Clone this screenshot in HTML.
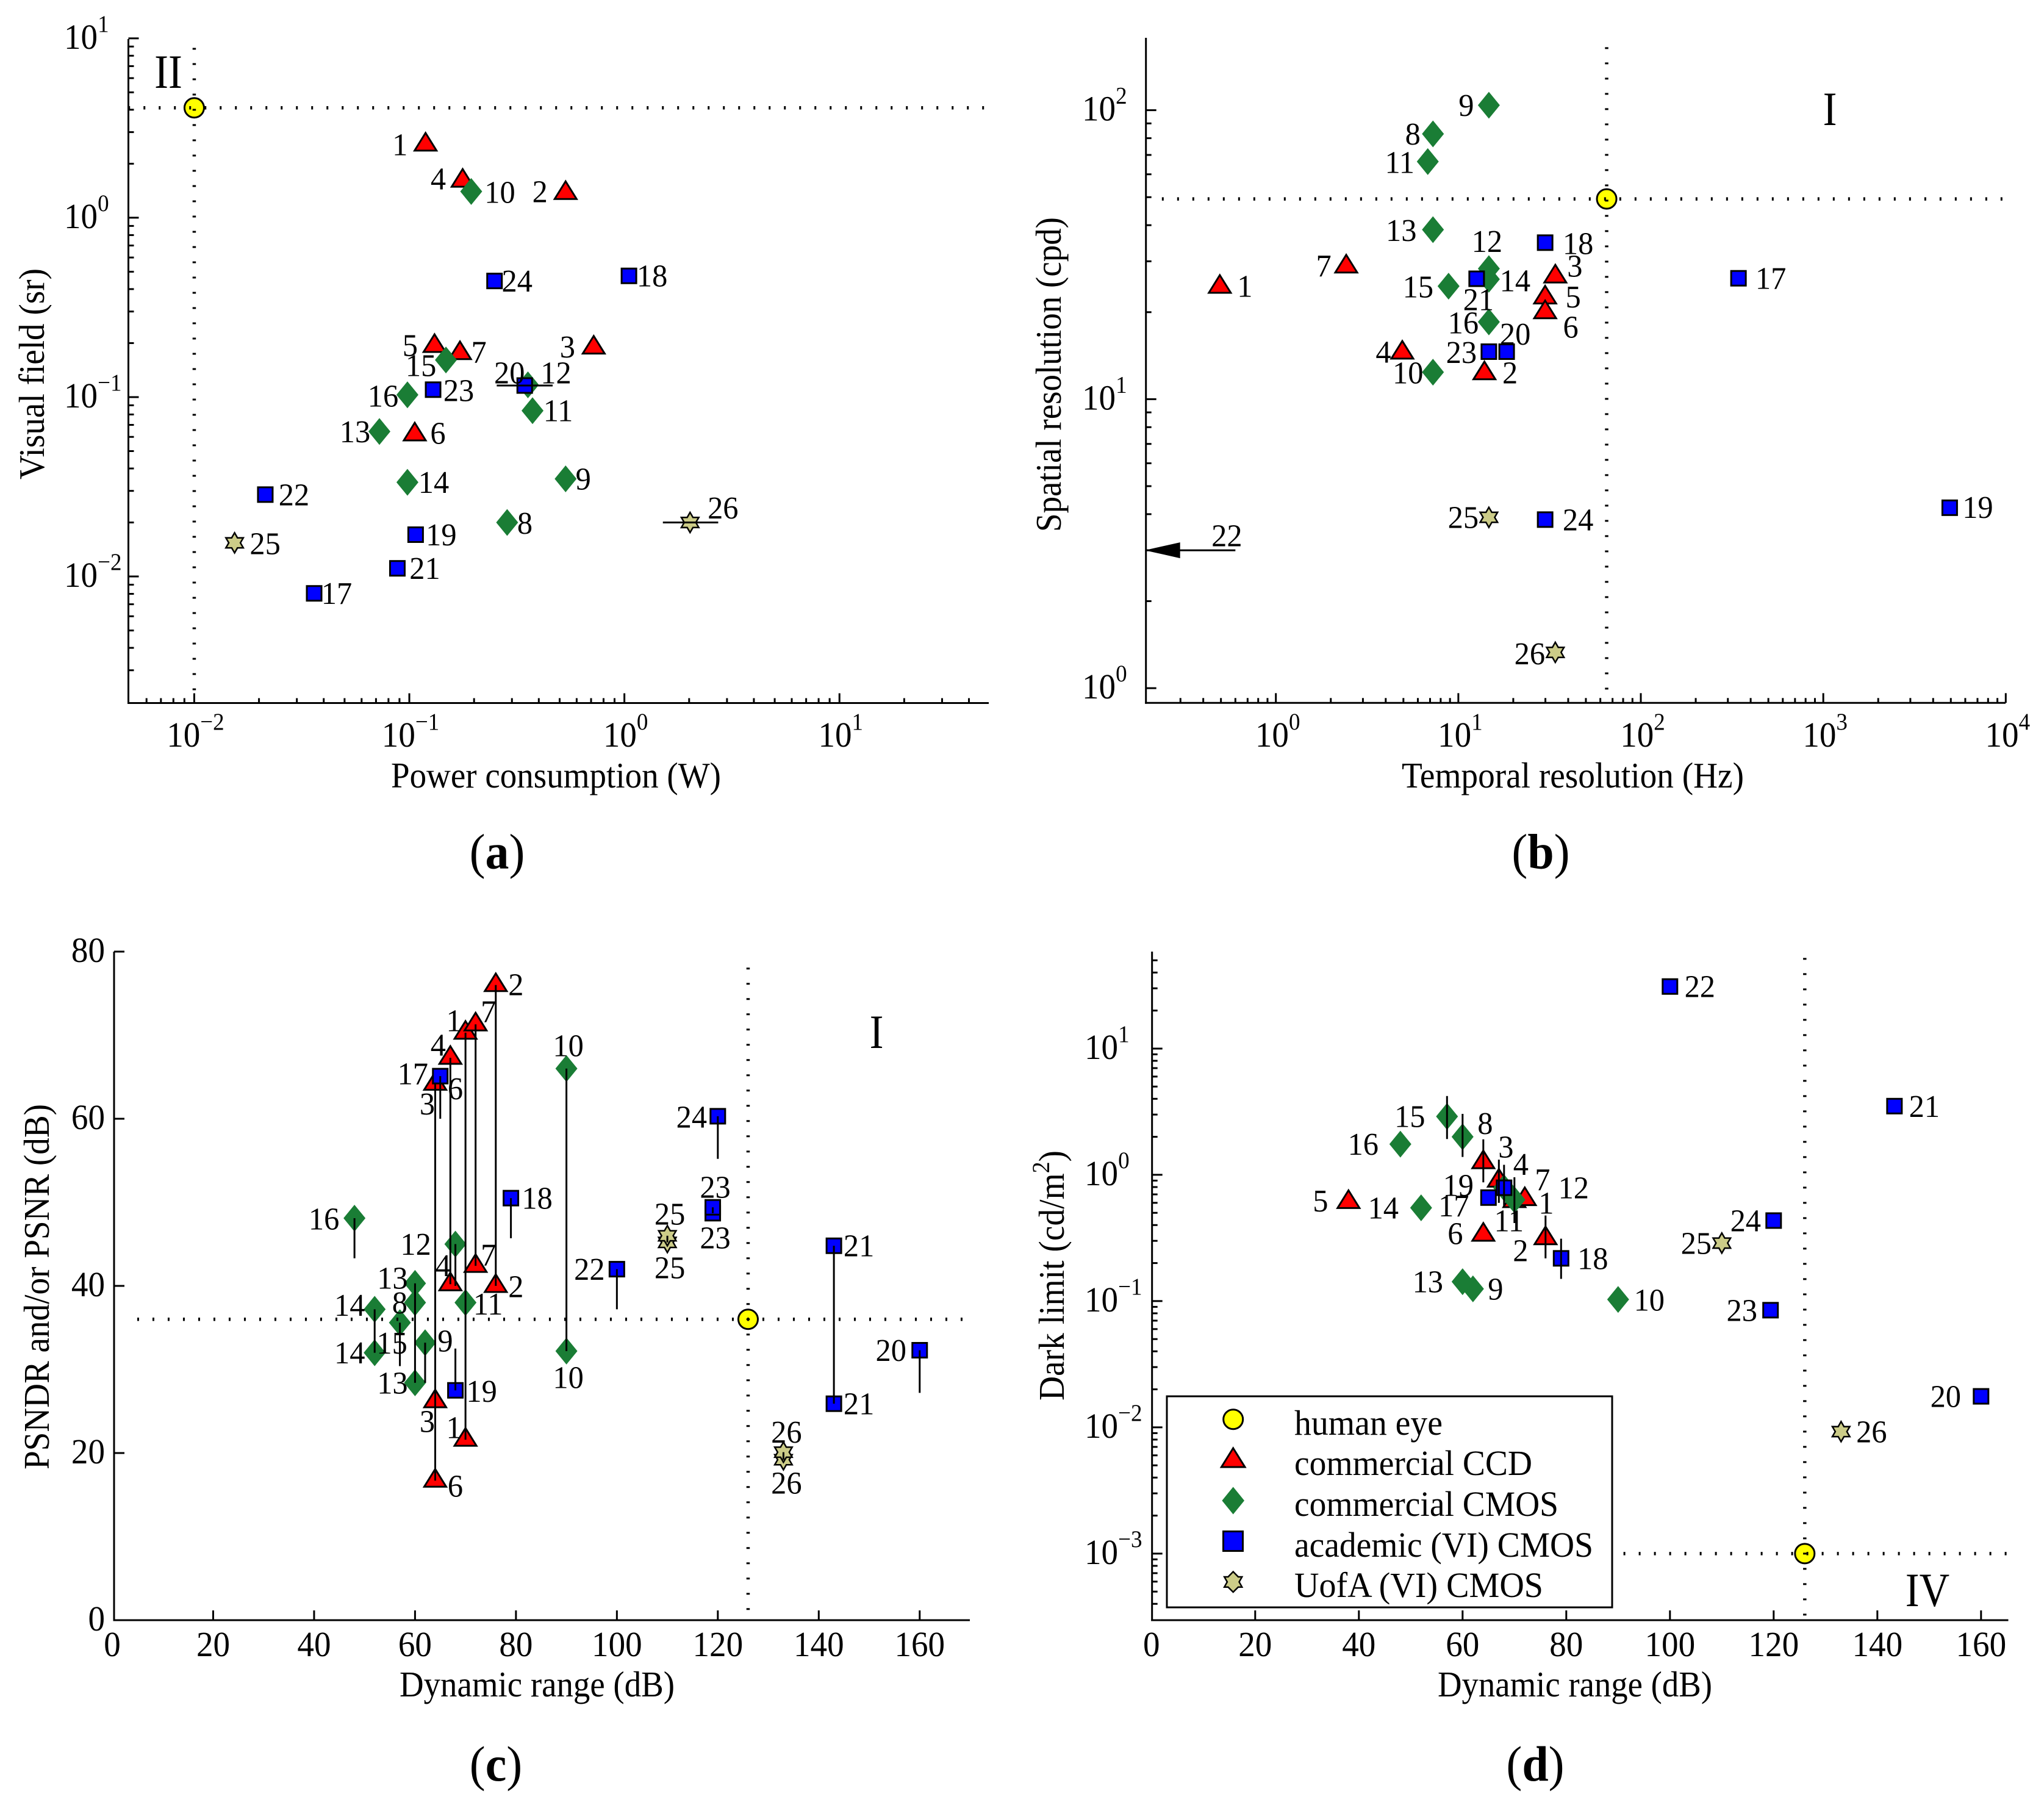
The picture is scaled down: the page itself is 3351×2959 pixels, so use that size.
<!DOCTYPE html>
<html lang="en">
<head>
<meta charset="utf-8">
<title>Image sensor comparison against the human eye</title>
<style>
html,body{margin:0;padding:0;background:#fff}
svg{display:block}
text{font-family:"Liberation Serif",serif;fill:#000}
</style>
</head>
<body>
<svg id="chart" xmlns="http://www.w3.org/2000/svg" width="3351" height="2959" viewBox="0 0 3351 2959">
<rect width="3351" height="2959" fill="#fff"/>
<g id="marks"></g>

<text font-size="59" x="641" y="1291" textLength="541" lengthAdjust="spacingAndGlyphs">Power consumption (W)</text>
<text font-size="59" transform="translate(72,786) rotate(-90)" textLength="346" lengthAdjust="spacingAndGlyphs">Visual field (sr)</text>
<text font-size="59" x="2298" y="1291" textLength="561" lengthAdjust="spacingAndGlyphs">Temporal resolution (Hz)</text>
<text font-size="59" transform="translate(1739,872) rotate(-90)" textLength="516" lengthAdjust="spacingAndGlyphs">Spatial resolution (cpd)</text>
<text font-size="59" x="655" y="2781" textLength="451" lengthAdjust="spacingAndGlyphs">Dynamic range (dB)</text>
<text font-size="59" transform="translate(80,2409) rotate(-90)" textLength="599" lengthAdjust="spacingAndGlyphs">PSNDR and/or PSNR (dB)</text>
<text font-size="59" x="2357" y="2781" textLength="450" lengthAdjust="spacingAndGlyphs">Dynamic range (dB)</text>
<text font-size="59" transform="translate(1744,2296) rotate(-90)" textLength="410" lengthAdjust="spacingAndGlyphs">Dark limit (cd/m<tspan font-size="40" dy="-24">2</tspan><tspan dy="24">)</tspan></text>

<text font-size="82" transform="translate(815,1423.5) scale(.95,1)" text-anchor="middle">(<tspan font-weight="bold">a</tspan>)</text>
<text font-size="82" transform="translate(2526,1423.5) scale(.95,1)" text-anchor="middle">(<tspan font-weight="bold">b</tspan>)</text>
<text font-size="82" transform="translate(813,2919) scale(.95,1)" text-anchor="middle">(<tspan font-weight="bold">c</tspan>)</text>
<text font-size="82" transform="translate(2517,2919) scale(.95,1)" text-anchor="middle">(<tspan font-weight="bold">d</tspan>)</text>

<text font-size="78" transform="translate(276,144) scale(.88,1)" text-anchor="middle">II</text>
<text font-size="78" transform="translate(3000,205) scale(.88,1)" text-anchor="middle">I</text>
<text font-size="78" transform="translate(1437,1718) scale(.88,1)" text-anchor="middle">I</text>
<text font-size="78" transform="translate(3160,2633) scale(.88,1)" text-anchor="middle">IV</text>

<g>
  <rect x="1913" y="2289" width="730" height="346" fill="#fff" stroke="#000" stroke-width="3"/>
  <circle cx="2021.7" cy="2326.7" r="16" fill="#ffff00" stroke="#000" stroke-width="3"/>
  <path d="M2021.7,2374 L2041,2405 L2002.4,2405 Z" fill="#ff0000" stroke="#000" stroke-width="3"/>
  <path d="M2021.7,2437.5 L2040,2460 L2021.7,2482.5 L2003.4,2460 Z" fill="#1a7d35"/>
  <rect x="2005.5" y="2510.5" width="32" height="32" fill="#0000ff" stroke="#000" stroke-width="3"/>
  <path d="M2021.7,2576.5 L2030,2585 L2036.2,2585 L2031.5,2593.3 L2036.2,2601.7 L2030,2601.7 L2021.7,2610 L2013.4,2601.7 L2007.2,2601.7 L2011.9,2593.3 L2007.2,2585 L2013.4,2585 Z" fill="#cccc88" stroke="#000" stroke-width="2.5"/>
  <text font-size="58" x="2122" y="2352" textLength="243" lengthAdjust="spacingAndGlyphs">human eye</text>
  <text font-size="58" x="2122" y="2418" textLength="390" lengthAdjust="spacingAndGlyphs">commercial CCD</text>
  <text font-size="58" x="2122" y="2485" textLength="433" lengthAdjust="spacingAndGlyphs">commercial CMOS</text>
  <text font-size="58" x="2122" y="2552" textLength="490" lengthAdjust="spacingAndGlyphs">academic (VI) CMOS</text>
  <text font-size="58" x="2122" y="2618" textLength="408" lengthAdjust="spacingAndGlyphs">UofA (VI) CMOS</text>
</g>
</svg>

<script>
// ---------- data: index = sensor id - 1 (ids 1..26) ----------
const deviceClass = ['ccd','ccd','ccd','ccd','ccd','ccd','ccd','cmos','cmos','cmos','cmos','cmos','cmos','cmos','cmos','cmos','academic','academic','academic','academic','academic','academic','academic','academic','uofa','uofa'];

// Panel (a)
const aPower = [0.119,0.533,0.72,0.177,0.131,0.106,0.172,0.285,0.533,0.194,0.374,0.356,0.0726,0.098,0.148,0.098,0.0361,1.05,0.107,0.344,0.088,0.0214,0.129,0.249,0.0154,2.02];
const aField = [2.56,1.375,0.189,1.61,0.193,0.062,0.176,0.02,0.035,1.40,0.084,0.117,0.0643,0.0335,0.161,0.103,0.00805,0.474,0.0171,0.116,0.0111,0.0286,0.11,0.444,0.0154,0.02];
const aBarIds = [20,26];
const aBarLow = [0.255,1.51];
const aBarHigh = [0.464,2.73];
const aEye = [0.01,4.1];
const aXExponents = [-2,-1,0,1];
const aYExponents = [1,0,-1,-2];

// Panel (b) (sensor 22 has only an off-axis arrow)
const bTemporal = [0.493,13.9,34,4.93,29.9,29.9,2.43,7.26,14.7,7.26,6.8,14.7,7.26,14.7,8.84,14.7,343,29.9,4930,18.4,12.6,null,14.7,29.9,14.7,34];
const bSpatial = [24.5,12.3,26.6,14.5,22.5,20,28.8,82.8,104,12.4,66.4,28.3,38.6,26,24.6,18.5,26.2,34.8,4.21,14.6,26.1,null,14.6,3.83,3.9,1.33];
const bArrowTail = [0.6,3];
const bEye = [65,49.3];
const bXExponents = [0,1,2,3,4];
const bYExponents = [2,1,0];

// Panel (c)
const cRange = [70,76,64,67,null,64,72,60,62,90,70,68,60,52,57,48,65,79,68,160,143,100,119,120,110,133];
const cFirst = [70.3,76,64.2,67.3,null,64.2,71.3,38,33.2,66,38,45,40.3,37.2,35.6,48.1,65.1,50.5,27.5,32.3,44.8,42,49.4,60.3,46,20.1];
const cSecond = [21.6,40,26.2,40.2,null,16.7,42.4,null,null,32.2,null,null,28.4,32,null,null,null,null,null,null,25.9,null,48.7,null,45.2,19.2];
const cBarEnd = [null,null,null,null,null,null,null,null,28.4,null,null,40,null,null,30.4,43.3,60,45.7,32.5,27.2,null,37.2,null,55.2,null,null];
const cEye = [126,36];
const cXTicks = [0,20,40,60,80,100,120,140,160];
const cYTicks = [0,20,40,60,80];

// Panel (d)
const dRange = [70,76,64,67,38,64,72,60,62,90,70,68,60,52,57,48,65,79,68,160,143.3,100,119.4,120,110,133];
const dDark = [0.62,0.315,1.26,0.90,0.61,0.336,0.643,2.0,0.125,0.103,0.634,0.79,0.1425,0.548,2.9,1.75,0.66,0.218,0.79,0.0176,3.5,31,0.0847,0.434,0.288,0.00925];
const dBarIds = [15,8,3,4,19,11,2,18];
const dBarHigh = [4.21,3.04,1.91,1.32,1.2,0.957,0.476,0.312];
const dBarLow = [1.92,1.385,0.872,0.60,0.548,0.415,0.218,0.15];
const dEye = [126,0.001];
const dXTicks = [0,20,40,60,80,100,120,140,160];
const dYExponents = [1,0,-1,-2,-3];

// ---------- layout: label nudges relative to each marker, in px ----------
const aNudge = [[-42,0],[-42,-2],[-43,-1],[-40,-3],[-40,-1],[38,-2],[31,-2],[29,1],[29,0],[47,1],[42,0],[46,-20],[-40,0],[43,0],[-41,9],[-40,2],[37,0],[38,0],[42,0],[-25,-21],[45,0],[47,0],[42,1],[37,0],[50,1],[54,-24]];
const bNudge = [[41,-1],[42,-1],[32,-17],[-31,-1],[46,-1],[42,24],[-37,-1],[-33,0],[-37,0],[-41,1],[-46,1],[-3,-45],[-52,1],[43,2],[-50,1],[-42,1],[53,0],[54,1],[46,-1],[14,-29],[3,34],null,[-45,1],[54,0],[-42,0],[-42,2]];
const cNudgeFirst = [[-19,-20],[33,-1],[-13,33],[-20,-21],null,[33,8],[21,-21],[-25,0],[33,-3],[3,-38],[37,2],[-65,0],[-37,-9],[-41,-7],[-13,33],[-50,1],[-45,-4],[43,0],[43,1],[-47,0],[41,0],[-45,0],[4,-33],[-43,1],[4,-36],[5,-33]];
const cNudgeSecond = [[-19,-20],[33,1],[-13,33],[-12,-31],null,[33,9],[21,-18],null,null,[3,43],null,null,[-37,0],[-41,0],null,null,null,null,null,null,[41,0],null,[4,40],null,[4,41],[5,38]];
const dNudge = [[52,3],[-41,20],[37,-25],[36,-27],[-46,-2],[-46,-2],[29,-32],[37,-22],[37,0],[51,1],[-9,34],[114,0],[-57,0],[-62,0],[-61,0],[-61,0],[-57,13],[52,0],[-75,-4],[-58,0],[49,0],[49,0],[-47,0],[-46,0],[-42,0],[50,0]];

// ---------- helpers ----------
const NS = 'http://www.w3.org/2000/svg';
const root = document.getElementById('marks');

function mk(tag, attrs, name, parent) {
  const el = document.createElementNS(NS, tag);
  for (const k in attrs) el.setAttribute(k, attrs[k]);
  
  
  (parent || root).appendChild(el);
  return el;
}
function logScale(d0, d1, r0, r1) {
  const a = Math.log10(d0), b = Math.log10(d1);
  return v => r0 + (Math.log10(v) - a) / (b - a) * (r1 - r0);
}
function linScale(d0, d1, r0, r1) {
  return v => r0 + (v - d0) / (d1 - d0) * (r1 - r0);
}
function line(x1, y1, x2, y2, name, width) {
  return mk('line', {x1, y1, x2, y2, stroke: '#000', 'stroke-width': width || 3}, name);
}
function marker(kind, x, y, name) {
  if (kind === 'ccd') {
    mk('path', {d: `M${x},${y-19} L${x+18},${y+10} L${x-18},${y+10} Z`, fill: '#ff0000', stroke: '#000', 'stroke-width': 3}, name);
  } else if (kind === 'cmos') {
    mk('path', {d: `M${x},${y-22} L${x+18},${y} L${x},${y+22} L${x-18},${y} Z`, fill: '#1a7d35'}, name);
  } else if (kind === 'academic') {
    mk('rect', {x: x-12, y: y-12, width: 24, height: 24, fill: '#0000ff', stroke: '#000', 'stroke-width': 3}, name);
  } else {
    let d = '';
    for (let i = 0; i < 12; i++) {
      const r = i % 2 ? 9.5 : 16.5, t = i * Math.PI / 6;
      d += (i ? 'L' : 'M') + (x + r * Math.sin(t)).toFixed(1) + ',' + (y - r * Math.cos(t)).toFixed(1);
    }
    mk('path', {d: d + 'Z', fill: '#cccc88', stroke: '#000', 'stroke-width': 2.5}, name);
  }
}
function pointLabel(text, x, y, nudge, name) {
  const el = mk('text', {'font-size': 52, 'text-anchor': 'middle', transform: `translate(${x+nudge[0]},${y+nudge[1]+17.5}) scale(.97,1)`}, name);
  el.textContent = text;
}
function powerLabel(exp, x, y, anchor, name) {
  const el = mk('text', {'font-size': 58, 'text-anchor': anchor, transform: `translate(${x},${y}) scale(.95,1)`}, name);
  const base = document.createElementNS(NS, 'tspan');
  base.textContent = '10';
  el.appendChild(base);
  const sup = document.createElementNS(NS, 'tspan');
  sup.setAttribute('font-size', 39);
  sup.setAttribute('dy', -28);
  sup.textContent = String(exp).replace('-', '\u2212');
  el.appendChild(sup);
}
function plainLabel(value, x, y, anchor, name) {
  const el = mk('text', {'font-size': 58, 'text-anchor': anchor, transform: `translate(${x},${y}) scale(.95,1)`}, name);
  el.textContent = String(value);
}
function logMinors(d0, d1) {
  const out = [];
  for (let e = Math.floor(Math.log10(d0)); e <= Math.ceil(Math.log10(d1)); e++) {
    for (let m = 2; m < 10; m++) {
      const v = m * Math.pow(10, e);
      if (v >= d0 && v <= d1) out.push(v);
    }
  }
  return out;
}
function spines(p, pre) {
  line(p.l, p.t, p.l, p.b + 1.5, pre + '-y-axis-line');
  line(p.l - 1.5, p.b, p.r, p.b, pre + '-x-axis-line');
}
function xTicks(p, pre, scale, values, len) {
  values.forEach(v => {
    if (Math.abs(scale(v) - p.l) < 7) return;
    line(scale(v), p.b, scale(v), p.b - len, pre + (len > 10 ? '-x-major-tick' : '-x-minor-tick'), 3);
  });
}
function yTicks(p, pre, scale, values, len) {
  values.forEach(v => {
    if (Math.abs(scale(v) - p.b) < 7) return;
    line(p.l, scale(v), p.l + len, scale(v), pre + (len > 10 ? '-y-major-tick' : '-y-minor-tick'), 3);
  });
}
function dotStart(from, centre, phase) {
  return centre + phase + 25 * Math.ceil((from - centre - phase) / 25) - 1.5;
}
function eyeMark(p, pre, eye, X, Y) {
  const ex = X(eye[0]), ey = Y(eye[1]);
  mk('circle', {cx: ex, cy: ey, r: 16, fill: '#ffff00', stroke: '#000', 'stroke-width': 3}, pre + '-human-eye-point');
  mk('line', {x1: dotStart(p.dl, ex, p.px), y1: ey, x2: p.dr, y2: ey, stroke: '#000', 'stroke-width': 5.5, 'stroke-dasharray': '3 22'}, pre + '-human-eye-horizontal-reference');
  mk('line', {x1: ex, y1: dotStart(p.dt, ey, p.py), x2: ex, y2: p.db, stroke: '#000', 'stroke-width': 5.5, 'stroke-dasharray': '3 22'}, pre + '-human-eye-vertical-reference');
}

// ---------- panel (a) ----------
(function () {
  const p = {l: 210.5, r: 1621, t: 64, b: 1152.5, dl: 210.5, dr: 1620, dt: 78, db: 1152, px: -6.7, py: 3.3};
  const xd = [0.005, 50], yd = [0.00197, 9.91];
  const X = logScale(xd[0], xd[1], 212.3, 1622.7), Y = logScale(yd[0], yd[1], p.b, p.t);
  spines(p, 'a');
  xTicks(p, 'a', X, aXExponents.map(e => Math.pow(10, e)), 16);
  xTicks(p, 'a', X, logMinors(xd[0], xd[1]).filter(v => v < 50), 8);
  yTicks(p, 'a', Y, aYExponents.map(e => Math.pow(10, e)), 17);
  yTicks(p, 'a', Y, logMinors(yd[0], yd[1]), 9);
  aXExponents.forEach(e => powerLabel(e, X(Math.pow(10, e)) + 2, 1224, 'middle', 'a-x-tick-label'));
  aYExponents.forEach(e => powerLabel(e, 105, Y(Math.pow(10, e)) + 17, 'start', 'a-y-tick-label'));
  aPower.forEach((v, i) => marker(deviceClass[i], X(v), Y(aField[i]), 'a-point-' + (i + 1)));
  aBarIds.forEach((id, i) => line(X(aBarLow[i]), Y(aField[id - 1]), X(aBarHigh[i]), Y(aField[id - 1]), 'a-range-bar-' + id));
  aPower.forEach((v, i) => pointLabel(i + 1, X(v), Y(aField[i]), aNudge[i], 'a-point-label-' + (i + 1)));
  eyeMark(p, 'a', aEye, X, Y);
})();

// ---------- panel (b) ----------
(function () {
  const p = {l: 1878.7, r: 3288, t: 62, b: 1152.3, dl: 1905, dr: 3283, dt: 72, db: 1152, px: -2.7, py: 2.7};
  const xd = [0.2, 10000], yd = [0.889, 178];
  const X = logScale(xd[0], xd[1], 1882.6, 3288.3), Y = logScale(yd[0], yd[1], p.b, p.t);
  spines(p, 'b');
  xTicks(p, 'b', X, bXExponents.map(e => Math.pow(10, e)), 16);
  xTicks(p, 'b', X, logMinors(xd[0], xd[1]), 8);
  yTicks(p, 'b', Y, bYExponents.map(e => Math.pow(10, e)), 17);
  yTicks(p, 'b', Y, logMinors(yd[0], yd[1]), 9);
  bXExponents.forEach(e => powerLabel(e, X(Math.pow(10, e)) + 3, 1224, 'middle', 'b-x-tick-label'));
  bYExponents.forEach(e => powerLabel(e, 1774, Y(Math.pow(10, e)) + 17, 'start', 'b-y-tick-label'));
  bTemporal.forEach((v, i) => {
    if (v === null) return;
    marker(deviceClass[i], X(v), Y(bSpatial[i]), 'b-point-' + (i + 1));
  });
  bTemporal.forEach((v, i) => {
    if (v === null) return;
    pointLabel(i + 1, X(v), Y(bSpatial[i]), bNudge[i], 'b-point-label-' + (i + 1));
  });
  const ay = Y(bArrowTail[1]), atail = X(bArrowTail[0]);
  line(p.l, ay, atail, ay, 'b-off-axis-arrow-shaft');
  mk('path', {d: `M${p.l-2},${ay} L${p.l+56},${ay-13} L${p.l+56},${ay+13} Z`, fill: '#000'}, 'b-off-axis-arrow-head');
  pointLabel(22, atail, ay, [-14, -24], 'b-point-label-22');
  eyeMark(p, 'b', bEye, X, Y);
})();

// ---------- panel (c) ----------
(function () {
  const p = {l: 187, r: 1590, t: 1560, b: 2656, dl: 212, dr: 1592, dt: 1577, db: 2656, px: 0, py: 0};
  const X = linScale(0, 170, 184, 1590.5), Y = linScale(0, 80, p.b, p.t);
  spines(p, 'c');
  xTicks(p, 'c', X, cXTicks, 16);
  yTicks(p, 'c', Y, cYTicks, 17);
  cXTicks.forEach(v => plainLabel(v, X(v), 2715, 'middle', 'c-x-tick-label'));
  cYTicks.forEach(v => plainLabel(v, 172, Y(v) + 17, 'end', 'c-y-tick-label'));
  cRange.forEach((v, i) => {
    if (v === null) return;
    if (cSecond[i] !== null) marker(deviceClass[i], X(v), Y(cSecond[i]), 'c-point-low-' + (i + 1));
    marker(deviceClass[i], X(v), Y(cFirst[i]), 'c-point-' + (i + 1));
  });
  cRange.forEach((v, i) => {
    if (v === null) return;
    const end = cSecond[i] !== null ? cSecond[i] : cBarEnd[i];
    if (end !== null) line(X(v), Y(cFirst[i]), X(v), Y(end), 'c-range-bar-' + (i + 1));
  });
  cRange.forEach((v, i) => {
    if (v === null) return;
    pointLabel(i + 1, X(v), Y(cFirst[i]), cNudgeFirst[i], 'c-point-label-' + (i + 1));
    if (cSecond[i] !== null) pointLabel(i + 1, X(v), Y(cSecond[i]), cNudgeSecond[i], 'c-point-label-low-' + (i + 1));
  });
  eyeMark(p, 'c', cEye, X, Y);
})();

// ---------- panel (d) ----------
(function () {
  const p = {l: 1888.7, r: 3292.5, t: 1560, b: 2656, dl: 2660, dr: 3295, dt: 1560, db: 2662, px: 4.3, py: 0};
  const yd = [0.000297, 58.6];
  const X = linScale(0, 165, 1887.8, 3290.3), Y = logScale(yd[0], yd[1], p.b, p.t);
  spines(p, 'd');
  xTicks(p, 'd', X, dXTicks, 16);
  yTicks(p, 'd', Y, dYExponents.map(e => Math.pow(10, e)), 17);
  yTicks(p, 'd', Y, logMinors(yd[0], yd[1]), 9);
  dXTicks.forEach(v => plainLabel(v, X(v), 2715, 'middle', 'd-x-tick-label'));
  dYExponents.forEach(e => powerLabel(e, 1778, Y(Math.pow(10, e)) + 17, 'start', 'd-y-tick-label'));
  dRange.forEach((v, i) => marker(deviceClass[i], X(v), Y(dDark[i]), 'd-point-' + (i + 1)));
  dBarIds.forEach((id, i) => line(X(dRange[id - 1]), Y(dBarHigh[i]), X(dRange[id - 1]), Y(dBarLow[i]), 'd-range-bar-' + id));
  dRange.forEach((v, i) => pointLabel(i + 1, X(v), Y(dDark[i]), dNudge[i], 'd-point-label-' + (i + 1)));
  eyeMark(p, 'd', dEye, X, Y);
})();
</script>
</body>
</html>
